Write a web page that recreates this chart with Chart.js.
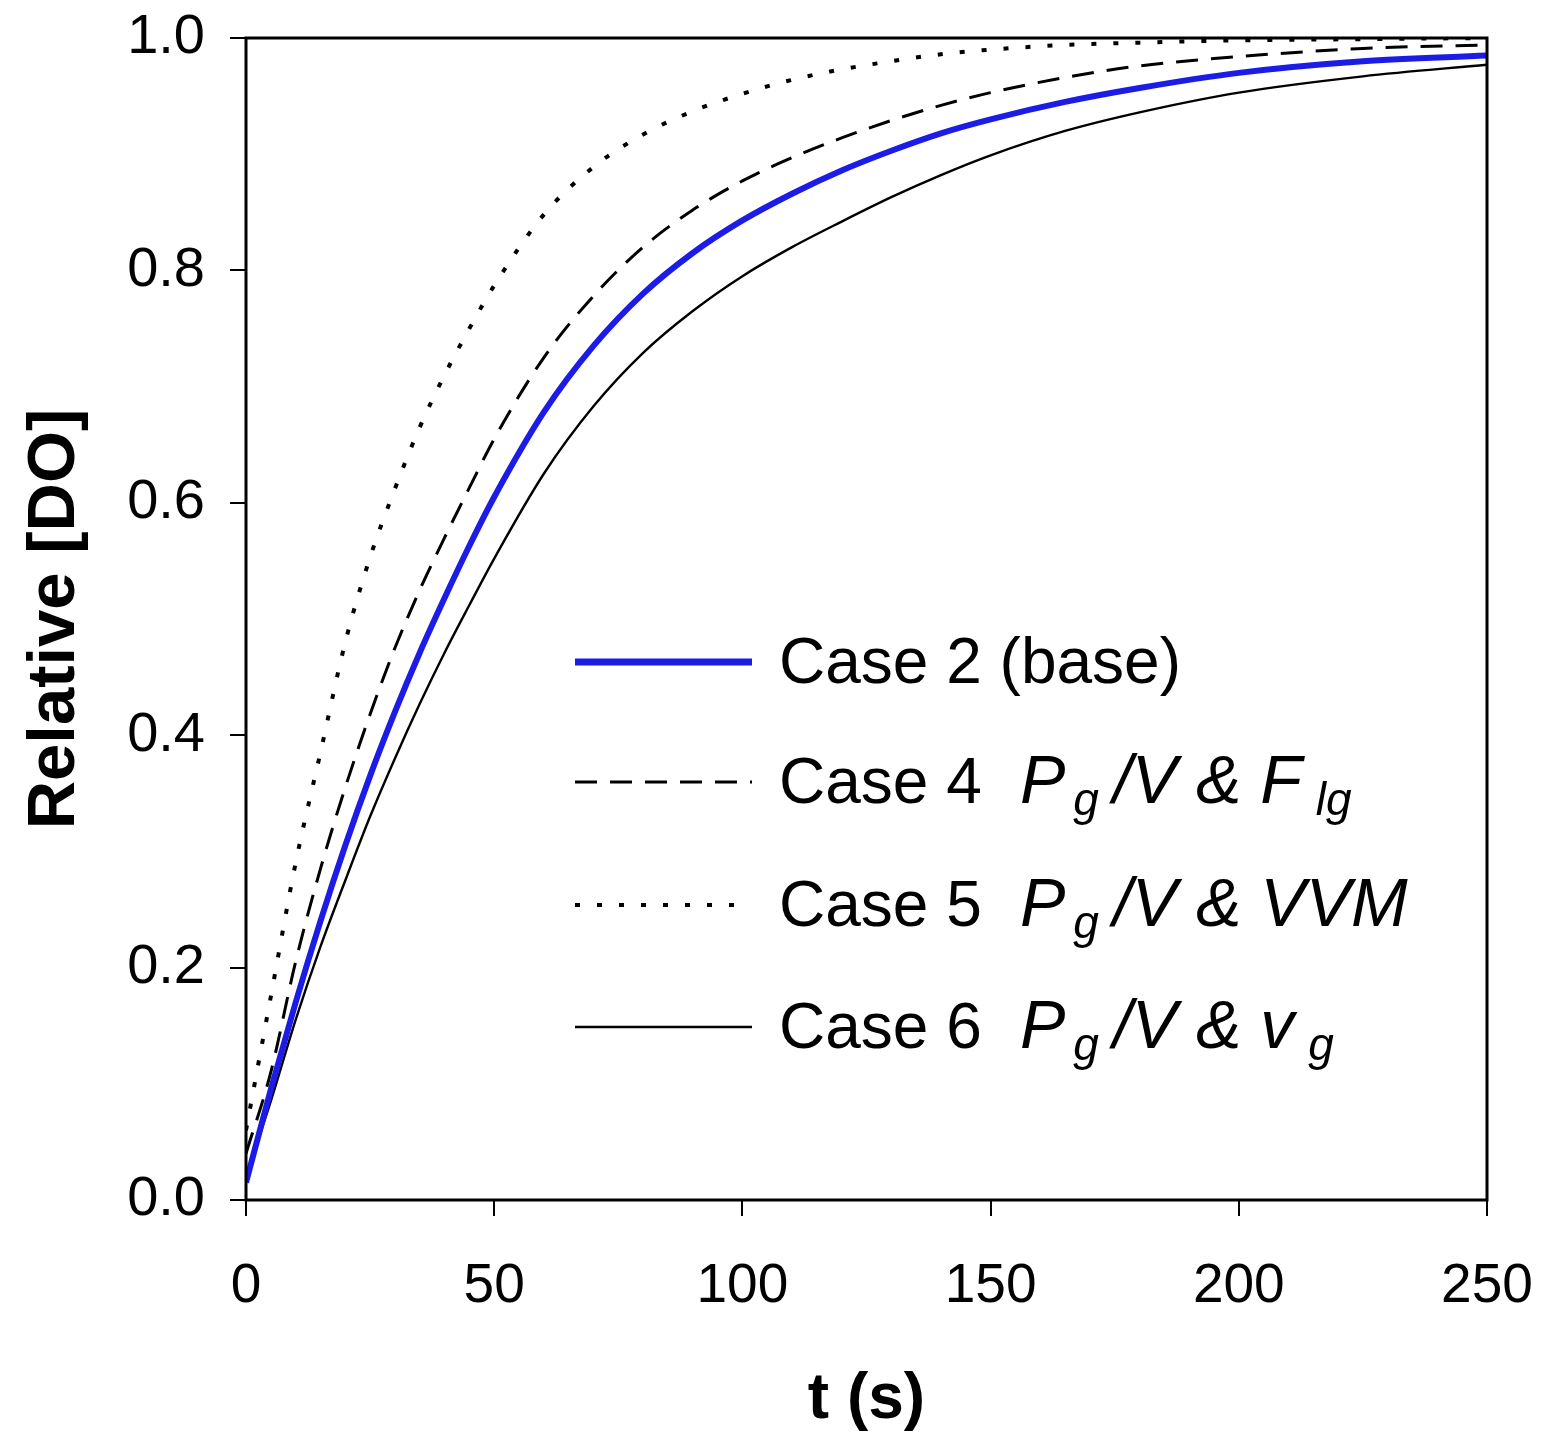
<!DOCTYPE html>
<html>
<head>
<meta charset="utf-8">
<script src="https://cdn.jsdelivr.net/npm/chart.js"></script>
<style>
  html, body { margin: 0; padding: 0; background: #fff; }
  #wrap { width: 1541px; height: 1437px; }
</style>
</head>
<body>
<div id="wrap"><canvas id="doChart" width="1541" height="1437"></canvas></div>
<script>
    // time points (s)
    const timeSec = [0, 5, 10, 15, 20, 25, 30, 35, 40, 45, 50, 60, 70, 80, 90, 100, 110, 120, 130, 140, 150, 165, 180, 200, 225, 250];

    // relative DO for each case
    const case2Base = [0.015, 0.095, 0.17, 0.24, 0.305, 0.365, 0.42, 0.471, 0.518, 0.563, 0.605, 0.678, 0.735, 0.78, 0.815, 0.843, 0.866, 0.886, 0.903, 0.918, 0.930, 0.945, 0.957, 0.970, 0.980, 0.985];
    const case4 = [0.04, 0.11, 0.205, 0.285, 0.355, 0.418, 0.475, 0.525, 0.57, 0.613, 0.655, 0.725, 0.778, 0.82, 0.852, 0.877, 0.897, 0.914, 0.929, 0.942, 0.953, 0.966, 0.976, 0.984, 0.991, 0.994];
    const case5 = [0.06, 0.175, 0.29, 0.385, 0.48, 0.553, 0.612, 0.665, 0.71, 0.75, 0.787, 0.848, 0.889, 0.917, 0.937, 0.952, 0.964, 0.973, 0.980, 0.986, 0.990, 0.994, 0.996, 0.998, 0.999, 1.0];
    const case6 = [0.02, 0.085, 0.155, 0.218, 0.275, 0.33, 0.38, 0.427, 0.471, 0.512, 0.552, 0.625, 0.683, 0.729, 0.765, 0.795, 0.82, 0.842, 0.863, 0.882, 0.899, 0.920, 0.936, 0.953, 0.967, 0.977];

    const xTicks = [0, 50, 100, 150, 200, 250];
    const yTicks = [0.0, 0.2, 0.4, 0.6, 0.8, 1.0];

    const xTitle = 't (s)';
    const yTitle = 'Relative [DO]';

    // legend text: name, then formula pieces ('i' = italic, 's' = subscript)
    const legendNames = ['Case 2 (base)', 'Case 4', 'Case 5', 'Case 6'];
    const legendFormulas = [
        [],
        [['P', 'i'], ['g', 's'], ['/V & F', 'i'], ['lg', 's']],
        [['P', 'i'], ['g', 's'], ['/V & VVM', 'i']],
        [['P', 'i'], ['g', 's'], ['/V & v', 'i'], ['g', 's']]
    ];

    const FONT = '"Liberation Sans", Arial, sans-serif';
    const lineStyles = [
        { color: '#1c1ce6', width: 6, dash: [] },
        { color: '#000', width: 3, dash: [22, 13] },
        { color: '#000', width: 4, dash: [5, 17] },
        { color: '#000', width: 2.4, dash: [] }
    ];
    const seriesData = [case2Base, case4, case5, case6];

    function toPoints(values) {
        return timeSec.map((t, i) => ({ x: t, y: values[i] }));
    }

    // frame, axis titles and the custom legend
    const decorPlugin = {
        id: 'decor',
        afterDraw(chart) {
            const ctx = chart.ctx;
            const area = chart.chartArea;
            ctx.save();

            ctx.strokeStyle = '#000';
            ctx.lineWidth = 3;
            ctx.setLineDash([]);
            ctx.strokeRect(area.left, area.top, area.right - area.left, area.bottom - area.top);

            ctx.fillStyle = '#000';
            ctx.font = 'bold 64px ' + FONT;
            ctx.textAlign = 'center';
            ctx.textBaseline = 'alphabetic';
            ctx.fillText(xTitle, (area.left + area.right) / 2, 1418);

            ctx.save();
            ctx.font = 'bold 67px ' + FONT;
            ctx.translate(74, (area.top + area.bottom) / 2);
            ctx.rotate(-Math.PI / 2);
            ctx.fillText(yTitle, 0, 0);
            ctx.restore();

            // legend
            const rowY = [662, 782, 905, 1027];
            const lineX0 = 575, lineX1 = 752;
            for (let i = 0; i < legendNames.length; i++) {
                const st = lineStyles[i];
                ctx.beginPath();
                ctx.strokeStyle = st.color;
                ctx.lineWidth = st.width + (i === 0 ? 1 : 0);
                ctx.setLineDash(st.dash);
                ctx.moveTo(lineX0, rowY[i]);
                ctx.lineTo(i === 2 ? 742 : lineX1, rowY[i]);
                ctx.stroke();
                ctx.setLineDash([]);

                const base = rowY[i] + 21;
                ctx.textAlign = 'left';
                ctx.fillStyle = '#000';
                ctx.font = '64px ' + FONT;
                ctx.fillText(legendNames[i], 779, base);

                let x = 1020;
                legendFormulas[i].forEach(([txt, kind], k) => {
                    if (kind === 's') {
                        ctx.font = 'italic 46px ' + FONT;
                        const lead = k === 1 ? 8 : 14;
                        ctx.fillText(txt, x + lead, base + 12);
                        x += ctx.measureText(txt).width + lead + 14;
                    } else {
                        ctx.font = 'italic 68px ' + FONT;
                        ctx.fillText(txt, x, base);
                        x += ctx.measureText(txt).width;
                    }
                });
            }
            ctx.restore();
        }
    };

    const chart = new Chart(document.getElementById('doChart'), {
        type: 'line',
        data: {
            datasets: seriesData.map((vals, i) => ({
                label: legendNames[i],
                data: toPoints(vals),
                borderColor: lineStyles[i].color,
                borderWidth: lineStyles[i].width,
                borderDash: lineStyles[i].dash,
                pointRadius: 0,
                fill: false,
                cubicInterpolationMode: 'monotone'
            }))
        },
        options: {
            responsive: false,
            devicePixelRatio: 1,
            animation: false,
            layout: { padding: { left: 0, top: 38, right: 54, bottom: 0 } },
            plugins: {
                legend: { display: false },
                tooltip: { enabled: false },
                title: { display: false }
            },
            scales: {
                x: {
                    type: 'linear',
                    min: 0,
                    max: 250,
                    afterFit(scale) {
                        scale.height = 237;
                        scale.paddingLeft = 0;
                        scale.paddingRight = 0;
                    },
                    afterBuildTicks(scale) { scale.ticks = xTicks.map(v => ({ value: v })); },
                    grid: { drawOnChartArea: false, drawTicks: true, tickLength: 16, color: '#000', lineWidth: 2 },
                    border: { display: false },
                    ticks: {
                        color: '#000',
                        padding: 38,
                        font: { family: FONT, size: 55 },
                        maxRotation: 0,
                        callback: v => String(v)
                    }
                },
                y: {
                    type: 'linear',
                    min: 0,
                    max: 1,
                    afterFit(scale) {
                        scale.width = 246;
                        scale.paddingTop = 0;
                        scale.paddingBottom = 0;
                    },
                    afterBuildTicks(scale) { scale.ticks = yTicks.map(v => ({ value: v })); },
                    grid: { drawOnChartArea: false, drawTicks: true, tickLength: 16, color: '#000', lineWidth: 2 },
                    border: { display: false },
                    ticks: {
                        color: '#000',
                        padding: 25,
                        font: { family: FONT, size: 56 },
                        callback: v => Number(v).toFixed(1)
                    }
                }
            }
        },
        plugins: [decorPlugin]
    });
</script>
</body>
</html>
